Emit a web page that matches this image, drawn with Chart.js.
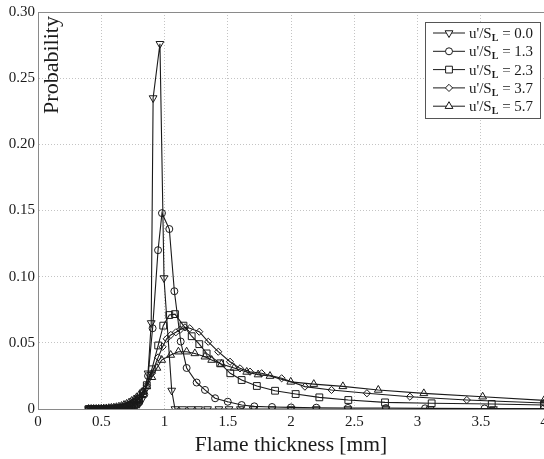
<!DOCTYPE html>
<html>
<head>
<meta charset="utf-8">
<script src="https://cdn.jsdelivr.net/npm/chart.js@4"></script>
<style>
html, body { margin: 0; padding: 0; background: #fff; overflow: hidden; }
#wrap { position: relative; width: 560px; height: 459px; }
</style>
</head>
<body>
<div id="wrap"><canvas id="flame_chart"></canvas></div>
<script>
// flame thickness pdf, one pair of arrays per u'/SL
const leftGrid = [0.40, 0.42, 0.44, 0.46, 0.48, 0.50, 0.52, 0.54, 0.56, 0.58, 0.60, 0.62, 0.64, 0.66, 0.68, 0.70, 0.72, 0.74, 0.76, 0.78, 0.80];

const thick00 = leftGrid.concat([0.82, 0.845, 0.87, 0.895, 0.91, 0.964, 0.996, 1.057, 1.083, 1.144, 1.21, 1.27, 1.34, 1.43, 1.51, 1.60, 1.70, 1.85, 2.0, 2.2, 2.45, 2.75, 3.1, 3.6]);
const prob00 = [0, 0, 0, 0, 0, 0, 0, 0, 0, 0, 0, 0, 0, 0, 0, 0.0003, 0.0005, 0.0008, 0.0013, 0.0025, 0.004,
    0.007, 0.014, 0.027, 0.065, 0.235, 0.276, 0.099, 0.014, 0, 0, 0, 0, 0, 0, 0, 0, 0, 0, 0, 0, 0, 0, 0, 0];

const thick13 = leftGrid.concat([0.84, 0.87, 0.906, 0.949, 0.98, 1.038, 1.078, 1.128, 1.175, 1.254, 1.32, 1.40, 1.50, 1.61, 1.71, 1.85, 2.0, 2.2, 2.45, 2.75, 3.06, 3.53, 4.0]);
const prob13 = [0, 0, 0, 0, 0, 0, 0, 0, 0, 0, 0, 0, 0.0002, 0.0003, 0.0005, 0.0007, 0.001, 0.0016, 0.0024, 0.0035, 0.005,
    0.011, 0.025, 0.061, 0.12, 0.148, 0.136, 0.089, 0.051, 0.031, 0.02, 0.0144, 0.0081, 0.0055, 0.003, 0.002,
    0.0015, 0.0012, 0.001, 0.0008, 0.0007, 0.0005, 0.0004, 0.0003];

const thick23 = leftGrid.concat([0.83, 0.86, 0.90, 0.95, 0.99, 1.038, 1.083, 1.15, 1.215, 1.275, 1.333, 1.44, 1.52, 1.61, 1.73, 1.874, 2.037, 2.224, 2.453, 2.743, 3.112, 3.587, 4.0]);
const prob23 = [0, 0, 0, 0, 0, 0, 0, 0, 0, 0.0002, 0.0003, 0.0004, 0.0006, 0.0008, 0.0011, 0.0015, 0.0022, 0.003, 0.0042, 0.0057, 0.0075,
    0.012, 0.018, 0.03, 0.048, 0.063, 0.071, 0.0717, 0.063, 0.055, 0.049, 0.042, 0.0345, 0.027, 0.0219, 0.0174,
    0.0138, 0.0113, 0.0088, 0.0068, 0.005, 0.0043, 0.0038, 0.003];

const thick37 = leftGrid.concat([0.83, 0.86, 0.90, 0.95, 0.985, 1.017, 1.05, 1.09, 1.125, 1.162, 1.20, 1.275, 1.346, 1.425, 1.518, 1.597, 1.676, 1.768, 1.926, 2.11, 2.32, 2.6, 2.94, 3.39, 4.0]);
const prob37 = [0, 0, 0, 0, 0, 0, 0, 0.0002, 0.0003, 0.0004, 0.0005, 0.0007, 0.001, 0.0014, 0.002, 0.0026, 0.0034, 0.0044, 0.0056, 0.0072, 0.009,
    0.013, 0.018, 0.027, 0.039, 0.047, 0.053, 0.056, 0.058, 0.060, 0.0617, 0.061, 0.0584, 0.0508, 0.0433, 0.0357,
    0.0307, 0.0282, 0.027, 0.0232, 0.0169, 0.0144, 0.0119, 0.0093, 0.0068, 0.0045];

const thick57 = leftGrid.concat([0.83, 0.86, 0.90, 0.94, 0.978, 1.049, 1.11, 1.175, 1.24, 1.32, 1.373, 1.45, 1.55, 1.65, 1.74, 1.834, 1.998, 2.18, 2.41, 2.69, 3.05, 3.515, 4.0]);
const prob57 = [0, 0, 0, 0, 0.0001, 0.0002, 0.0003, 0.0004, 0.0006, 0.0008, 0.001, 0.0013, 0.0017, 0.0022, 0.003, 0.0038, 0.0048, 0.006, 0.0072, 0.0088, 0.0105,
    0.013, 0.017, 0.024, 0.031, 0.037, 0.0408, 0.0433, 0.0433, 0.042, 0.0395, 0.037, 0.034, 0.031, 0.028, 0.026,
    0.0249, 0.0205, 0.0188, 0.0171, 0.0144, 0.0118, 0.0093, 0.0065];

const legendValues = ['0.0', '1.3', '2.3', '3.7', '5.7'];
const xTicks = [0, 0.5, 1, 1.5, 2, 2.5, 3, 3.5, 4];

const serif = '"Liberation Serif", "DejaVu Serif", serif';
const ink = '#1a1a1a';

function pairs(xs, ys) {
    return xs.map((x, i) => ({ x: x, y: ys[i] }));
}

function series(xs, ys, style, radius, rotation) {
    return {
        data: pairs(xs, ys),
        borderColor: ink,
        borderWidth: 1.1,
        pointStyle: style,
        pointRadius: radius,
        pointRotation: rotation || 0,
        pointBorderColor: ink,
        pointBorderWidth: 1,
        pointBackgroundColor: 'rgba(0,0,0,0)',
        tension: 0
    };
}

// frame, inner y title and legend with subscript L
const paperBits = {
    id: 'paperBits',
    afterDraw(chart) {
        const ctx = chart.ctx;
        const a = chart.chartArea;
        ctx.save();
        ctx.strokeStyle = '#8a8a8a';
        ctx.lineWidth = 1;
        ctx.strokeRect(a.left + 0.5, a.top + 0.5, a.right - a.left, a.bottom - a.top);

        ctx.fillStyle = ink;
        ctx.font = '22px ' + serif;
        ctx.translate(52, 65);
        ctx.rotate(-Math.PI / 2);
        ctx.textAlign = 'center';
        ctx.textBaseline = 'middle';
        ctx.fillText('Probability', 0, 0);
        ctx.restore();

        ctx.save();
        ctx.fillStyle = '#fff';
        ctx.fillRect(425.5, 22.5, 115, 96);
        ctx.strokeStyle = '#555';
        ctx.lineWidth = 1;
        ctx.strokeRect(425.5, 22.5, 115, 96);
        chart.data.datasets.forEach((ds, i) => {
            const y = 33 + i * 18.3;
            ctx.strokeStyle = ink;
            ctx.lineWidth = 1;
            ctx.beginPath();
            ctx.moveTo(433, y);
            ctx.lineTo(465, y);
            ctx.stroke();
            ctx.fillStyle = '#fff';
            Chart.helpers.drawPoint(ctx, {
                pointStyle: ds.pointStyle,
                radius: ds.pointRadius,
                rotation: ds.pointRotation,
                borderWidth: 1
            }, 449, y);

            ctx.fillStyle = ink;
            ctx.textBaseline = 'alphabetic';
            ctx.textAlign = 'left';
            let x = 469;
            ctx.font = '15px ' + serif;
            ctx.fillText("u'/S", x, y + 5);
            x += ctx.measureText("u'/S").width;
            ctx.font = 'bold 10px ' + serif;
            ctx.fillText('L', x, y + 8);
            x += ctx.measureText('L').width;
            ctx.font = '15px ' + serif;
            ctx.fillText(' = ' + legendValues[i], x, y + 5);
        });
        ctx.restore();
    }
};

const flameChart = new Chart(document.getElementById('flame_chart').getContext('2d'), {
    type: 'line',
    data: {
        datasets: [
            series(thick00, prob00, 'triangle', 4.5, 180),
            series(thick13, prob13, 'circle', 3.5),
            series(thick23, prob23, 'rect', 4.8),
            series(thick37, prob37, 'rectRot', 3.6),
            series(thick57, prob57, 'triangle', 4.5)
        ]
    },
    options: {
        responsive: true,
        maintainAspectRatio: false,
        animation: false,
        layout: { padding: { top: 12, right: 16, bottom: 0, left: 0 } },
        plugins: {
            legend: { display: false },
            tooltip: { enabled: false }
        },
        scales: {
            x: {
                type: 'linear',
                min: 0,
                max: 4,
                afterBuildTicks: scale => { scale.ticks = xTicks.map(v => ({ value: v })); },
                afterFit: scale => { scale.height = 50; },
                ticks: {
                    color: ink,
                    font: { family: serif, size: 15 },
                    padding: 4,
                    maxRotation: 0,
                    callback: v => String(v)
                },
                grid: { color: '#c4c4c4', drawTicks: false },
                border: { color: '#8a8a8a', dash: [1, 2] },
                title: {
                    display: true,
                    text: 'Flame thickness [mm]',
                    color: ink,
                    font: { family: serif, size: 21.5 },
                    padding: { top: 0, bottom: 1 }
                }
            },
            y: {
                min: 0,
                max: 0.3,
                afterFit: scale => { scale.width = 38; },
                ticks: {
                    stepSize: 0.05,
                    color: ink,
                    font: { family: serif, size: 15 },
                    padding: 3,
                    callback: v => (v === 0 ? '0' : v.toFixed(2))
                },
                grid: { color: '#c4c4c4', drawTicks: false },
                border: { color: '#8a8a8a', dash: [1, 2] }
            }
        }
    },
    plugins: [paperBits]
});
</script>
</body>
</html>
